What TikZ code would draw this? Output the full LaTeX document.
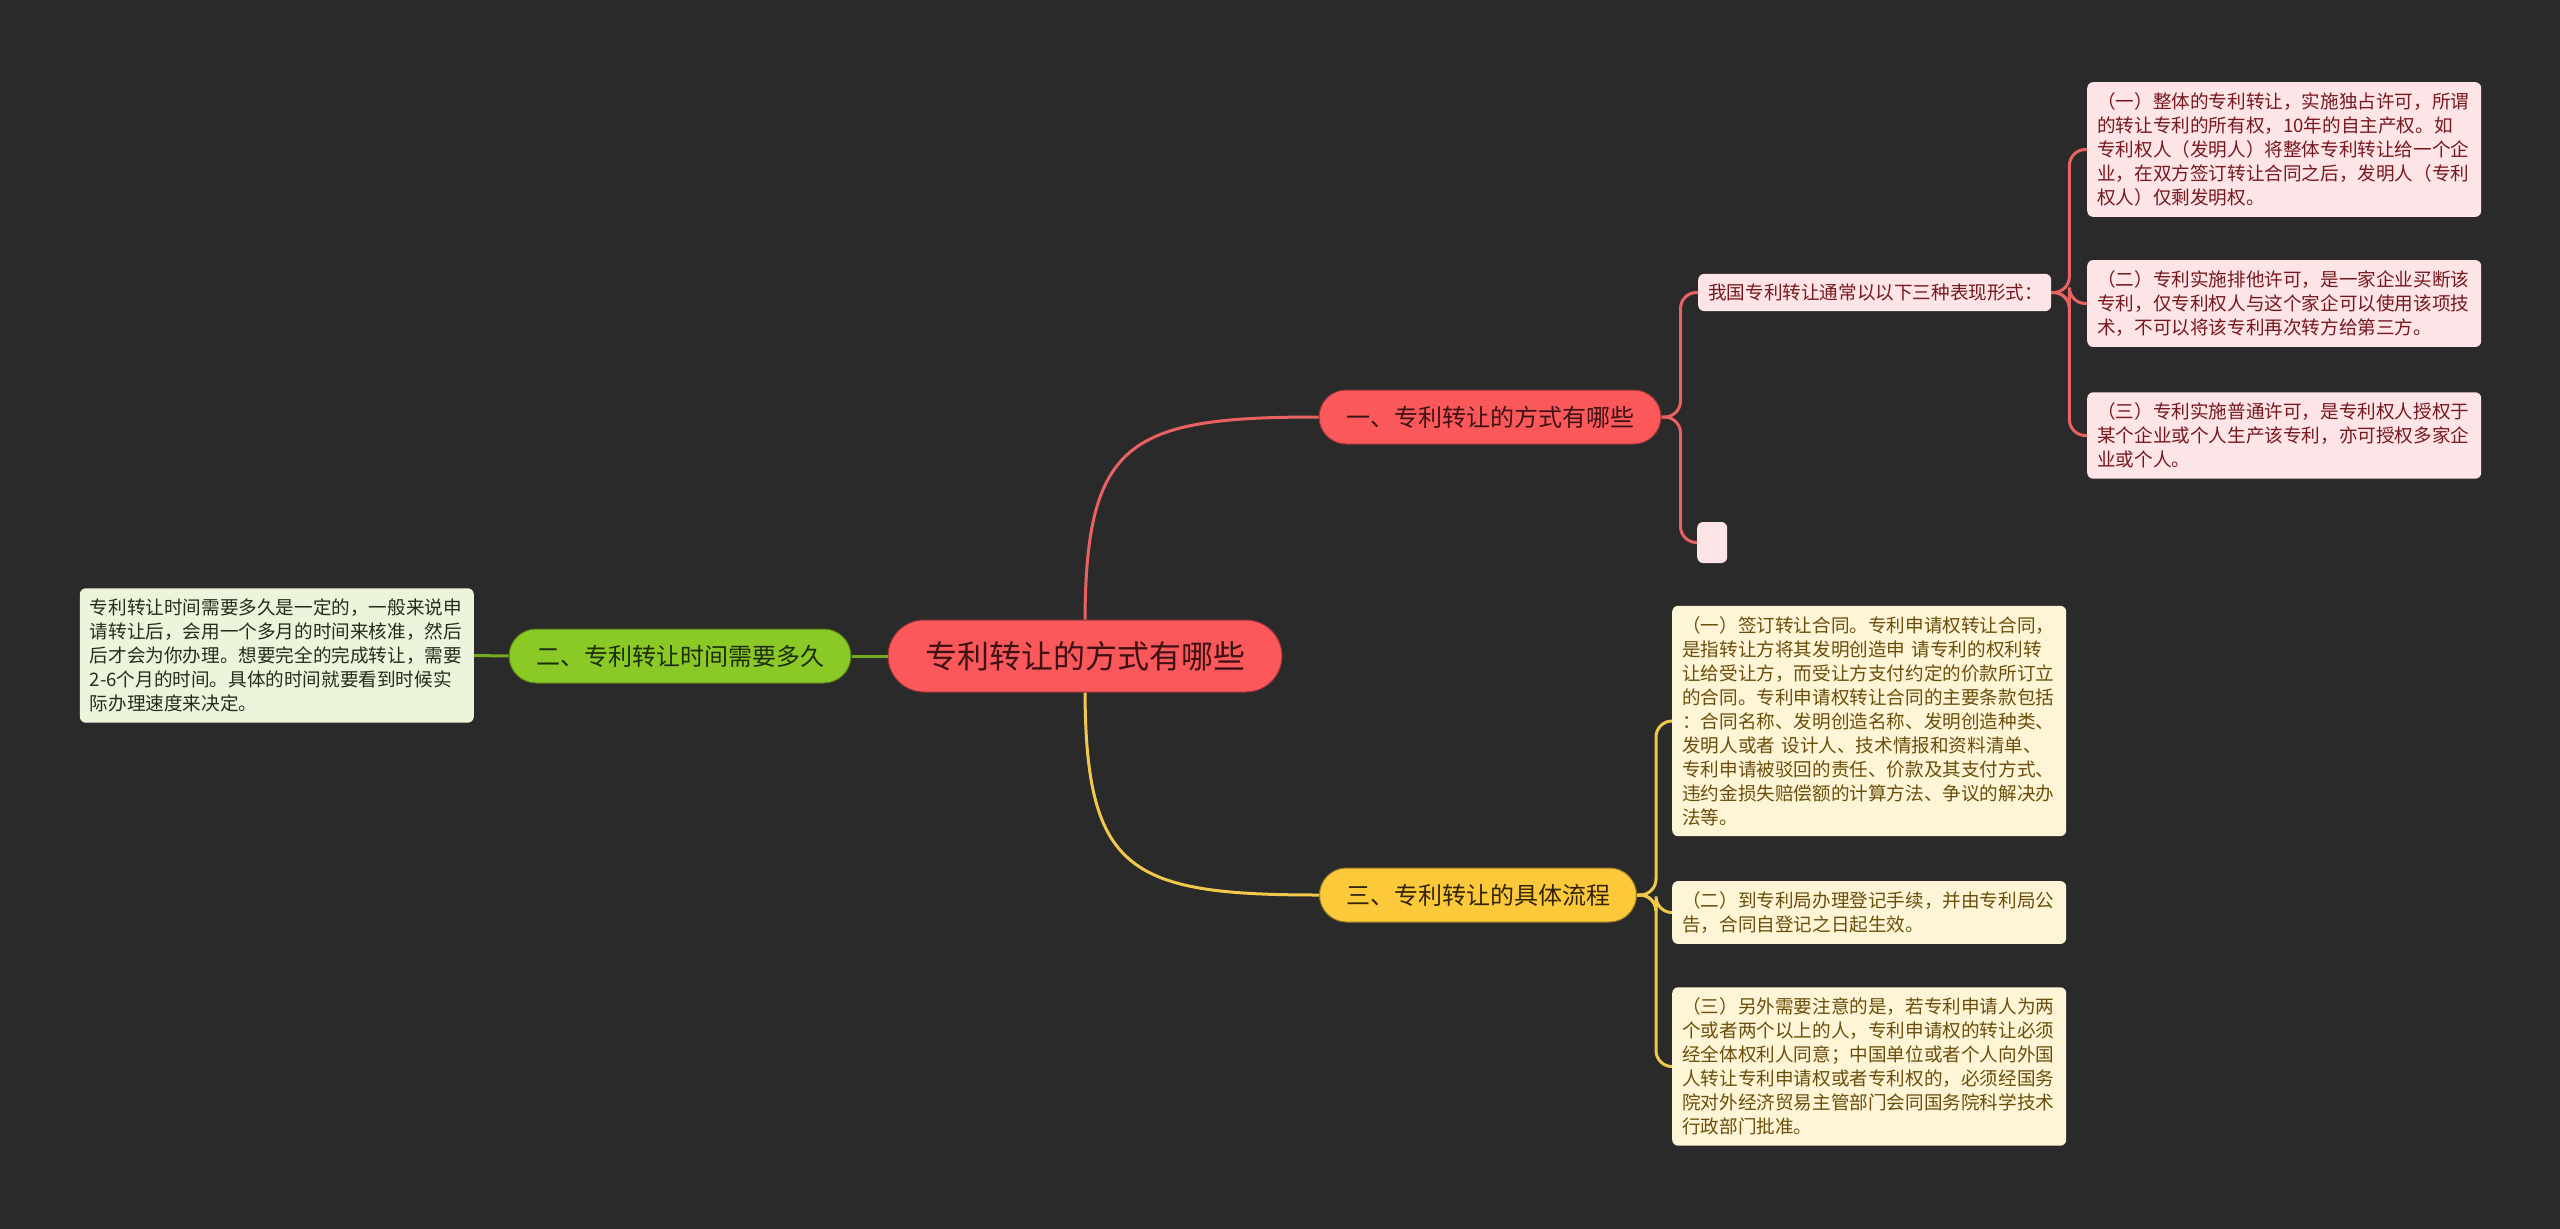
\documentclass[tikz,border=0pt]{standalone}
\usepackage{fontspec}
\usepackage{xcolor}
\usepackage{tikz}
\usetikzlibrary{positioning, calc}
\newfontfamily\cjk{Noto Sans CJK SC}
\definecolor{mapbg}{RGB}{42, 42, 42}
\definecolor{mapred}{RGB}{250, 88, 90}
\definecolor{mapredline}{RGB}{232, 98, 98}
\definecolor{mapredtext}{RGB}{62, 18, 20}
\definecolor{mappink}{RGB}{253, 228, 230}
\definecolor{mappinktext}{RGB}{118, 24, 30}
\definecolor{mapgreen}{RGB}{139, 201, 38}
\definecolor{mapgreentext}{RGB}{30, 44, 10}
\definecolor{mapmint}{RGB}{236, 244, 220}
\definecolor{mapminttext}{RGB}{36, 44, 28}
\definecolor{mapyellow}{RGB}{252, 201, 59}
\definecolor{mapyellowline}{RGB}{240, 200, 76}
\definecolor{mapyellowtext}{RGB}{52, 36, 6}
\definecolor{mapcream}{RGB}{253, 245, 214}
\definecolor{mapcreamtext}{RGB}{108, 78, 12}
\tikzset{
  rootpill/.style={fill=mapred, draw=mapred!60!black, line width=1pt, rounded corners=36pt,
    minimum width=394pt, minimum height=72pt, text=mapredtext, font=\cjk\fontsize{32}{38}\selectfont},
  branchpill/.style={rounded corners=27pt, minimum height=54pt, line width=1pt, inner xsep=0pt,
    font=\cjk\fontsize{24}{28}\selectfont},
  leafbox/.style={rounded corners=6pt, align=left, inner xsep=10pt, inner ysep=10.5pt,
    text width=374pt, font=\cjk\fontsize{18.6}{24}\selectfont},
  pinkleaf/.style={leafbox, fill=mappink, text=mappinktext},
  creamleaf/.style={leafbox, fill=mapcream, text=mapcreamtext},
  mintleaf/.style={leafbox, fill=mapmint, text=mapminttext},
  redline/.style={draw=mapredline, line width=3pt},
  greenline/.style={draw=mapgreen!85!black, line width=3pt},
  yellowline/.style={draw=mapyellowline, line width=3pt},
}
\begin{document}
\begin{tikzpicture}[x=1pt, y=-1pt]
    \fill[mapbg] (0,0) rectangle (2560,1229);
    \useasboundingbox (0,0) rectangle (2560,1229);

    % Central topic and main branches
    \node[rootpill] (root) at (1085, 656) {专利转让的方式有哪些};
    \node[branchpill, fill=mapred, draw=mapred!60!black, text=mapredtext, minimum width=342pt] (one) at (1490, 417) {一、专利转让的方式有哪些};
    \node[branchpill, fill=mapgreen, draw=mapgreen!60!black, text=mapgreentext, minimum width=342pt] (two) at (680, 656) {二、专利转让时间需要多久};
    \node[branchpill, fill=mapyellow, draw=mapyellow!60!black, text=mapyellowtext, minimum width=317pt] (three) at (1478, 895) {三、专利转让的具体流程};

    % Branch one
    \node[pinkleaf, text width=333pt, anchor=west, inner ysep=10pt] (forms) at (1698, 292.5) {我国专利转让通常以以下三种表现形式：};
    \node[fill=mappink, rounded corners=6pt, minimum width=30pt, minimum height=41pt, anchor=west] (blank) at (1697, 542.5) {};
    \node[pinkleaf, anchor=west] (formA) at (2087, 149.5) {（一）整体的专利转让，实施独占许可，所谓\\的转让专利的所有权，10年的自主产权。如\\专利权人（发明人）将整体专利转让给一个企\\业，在双方签订转让合同之后，发明人（专利\\权人）仅剩发明权。};
    \node[pinkleaf, anchor=west] (formB) at (2087, 303.5) {（二）专利实施排他许可，是一家企业买断该\\专利，仅专利权人与这个家企可以使用该项技\\术，不可以将该专利再次转方给第三方。};
    \node[pinkleaf, anchor=west] (formC) at (2087, 435.5) {（三）专利实施普通许可，是专利权人授权于\\某个企业或个人生产该专利，亦可授权多家企\\业或个人。};

    % Branch two
    \node[mintleaf, anchor=east] (timebox) at (474, 655.5) {专利转让时间需要多久是一定的，一般来说申\\请转让后，会用一个多月的时间来核准，然后\\后才会为你办理。想要完全的完成转让，需要\\2-6个月的时间。具体的时间就要看到时候实\\际办理速度来决定。};

    % Branch three
    \node[creamleaf, anchor=west] (stepA) at (1672, 721) {（一）签订转让合同。专利申请权转让合同，\\是指转让方将其发明创造申 请专利的权利转\\让给受让方，而受让方支付约定的价款所订立\\的合同。专利申请权转让合同的主要条款包括\\：合同名称、发明创造名称、发明创造种类、\\发明人或者 设计人、技术情报和资料清单、\\专利申请被驳回的责任、价款及其支付方式、\\违约金损失赔偿额的计算方法、争议的解决办\\法等。};
    \node[creamleaf, anchor=west] (stepB) at (1672, 912.5) {（二）到专利局办理登记手续，并由专利局公\\告，合同自登记之日起生效。};
    \node[creamleaf, anchor=west] (stepC) at (1672, 1066.5) {（三）另外需要注意的是，若专利申请人为两\\个或者两个以上的人，专利申请权的转让必须\\经全体权利人同意；中国单位或者个人向外国\\人转让专利申请权或者专利权的，必须经国务\\院对外经济贸易主管部门会同国务院科学技术\\行政部门批准。};

    % Connectors
    \draw[redline] (root.north) .. controls (1086, 440) and (1130, 417) .. (one.west);
    \draw[yellowline] (root.south) .. controls (1086, 872) and (1130, 895) .. (three.west);
    \draw[greenline] (root.west) -- (two.east);
    \draw[greenline] (two.west) -- (timebox.east);
    \foreach \leaf in {forms, blank}
        \draw[redline, rounded corners=16pt] (one.east) -- ++(19,0) |- (\leaf.west);
    \foreach \leaf in {formA, formB, formC}
        \draw[redline, rounded corners=16pt] (forms.east) -- ++(18,0) |- (\leaf.west);
    \foreach \leaf in {stepA, stepB, stepC}
        \draw[yellowline, rounded corners=16pt] (three.east) -- ++(19,0) |- (\leaf.west);
\end{tikzpicture}
\end{document}
